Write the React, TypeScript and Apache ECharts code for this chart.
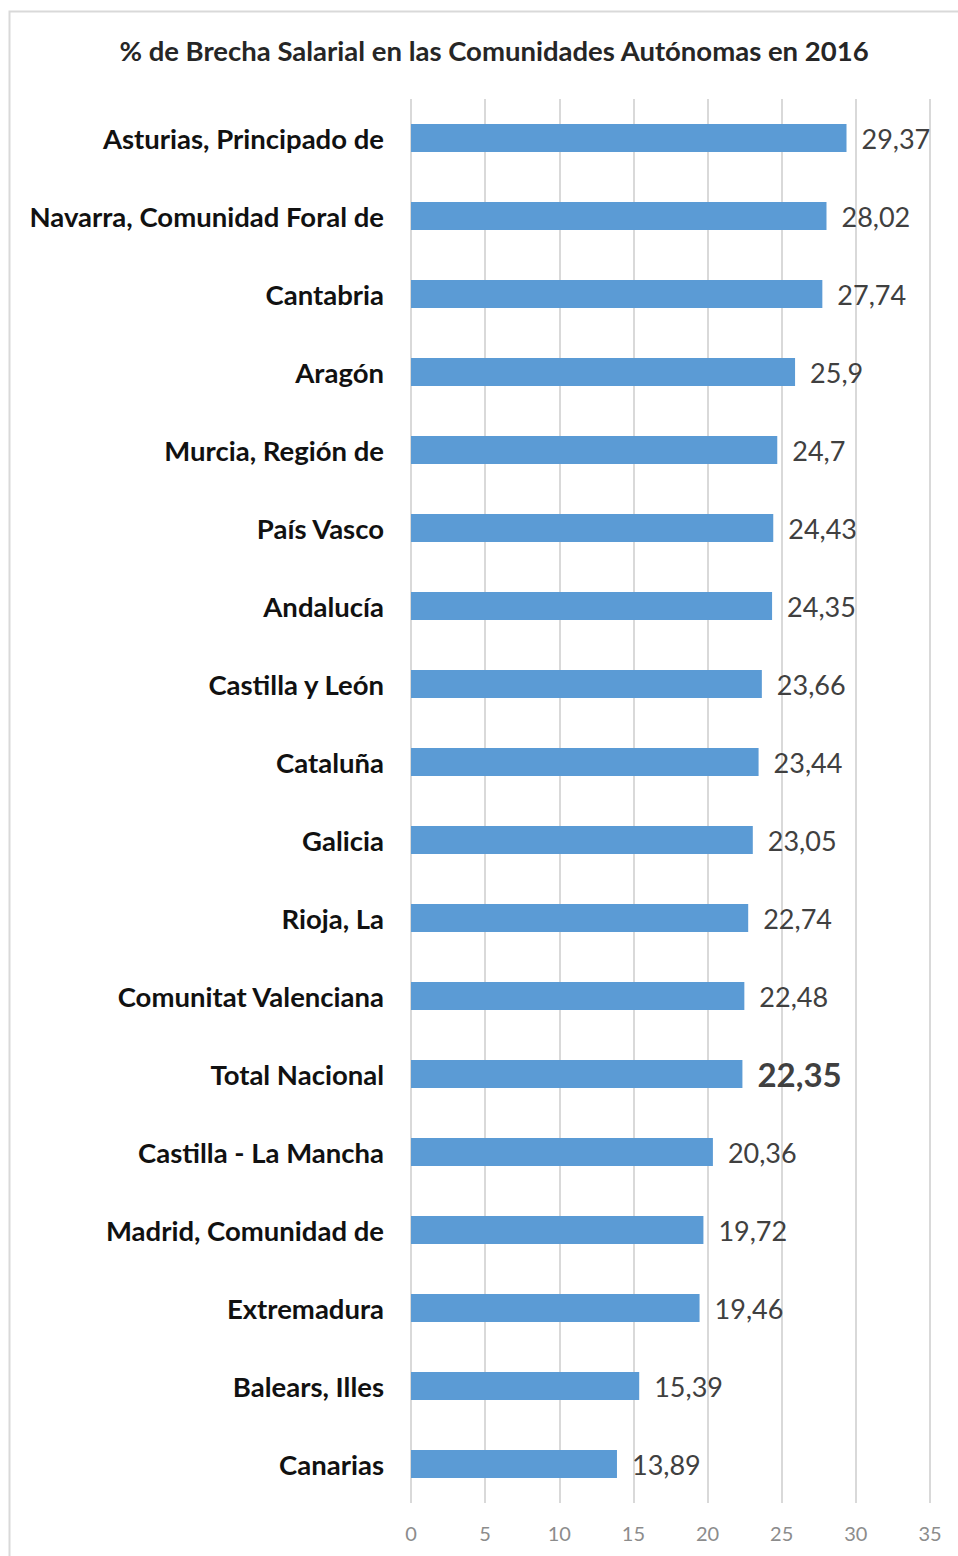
import React, { useEffect, useRef } from "react";
import * as echarts from "echarts";

const categories = [
  "Asturias, Principado de",
  "Navarra, Comunidad Foral de",
  "Cantabria",
  "Aragón",
  "Murcia, Región de",
  "País Vasco",
  "Andalucía",
  "Castilla y León",
  "Cataluña",
  "Galicia",
  "Rioja, La",
  "Comunitat Valenciana",
  "Total Nacional",
  "Castilla - La Mancha",
  "Madrid, Comunidad de",
  "Extremadura",
  "Balears, Illes",
  "Canarias",
];
const values = [29.37, 28.02, 27.74, 25.9, 24.7, 24.43, 24.35, 23.66, 23.44, 23.05, 22.74, 22.48, 22.35, 20.36, 19.72, 19.46, 15.39, 13.89];
const highlight = "Total Nacional";
const title = "% de Brecha Salarial en las Comunidades Autónomas en 2016";

const fmt = (v: number) => String(v).replace(".", ",");

export default function App() {
  const ref = useRef<HTMLDivElement>(null);
  useEffect(() => {
    document.body.style.margin = "0";
    const chart = echarts.init(ref.current!, undefined, { renderer: "svg" });
    chart.setOption({
      animation: false,
      backgroundColor: "#ffffff",
      title: {
        text: title,
        left: 489,
        textAlign: "center",
        top: 31,
        textStyle: { fontFamily: "Lato", fontWeight: "bold", fontSize: 27.5, color: "#262626" },
      },
      graphic: [
        {
          type: "rect",
          shape: { x: 9.5, y: 11.5, width: 1000, height: 1600 },
          style: { fill: "none", stroke: "#d9d9d9", lineWidth: 2 },
          silent: true,
        },
      ],
      grid: { left: 411, right: 28, top: 99, bottom: 53, containLabel: false },
      xAxis: {
        type: "value",
        min: 0,
        max: 35,
        interval: 5,
        axisLine: { show: false },
        axisTick: { show: false },
        splitLine: { show: true, lineStyle: { color: "#d9d9d9", width: 2 } },
        axisLabel: { color: "#8c8c8c", fontSize: 20, fontFamily: "Lato", margin: 20 },
      },
      yAxis: {
        type: "category",
        data: categories,
        inverse: true,
        axisLine: { show: false },
        axisTick: { show: false },
        axisLabel: {
          color: "#111111",
          fontSize: 27.5,
          fontWeight: "bold",
          fontFamily: "Lato",
          margin: 27,
        },
      },
      series: [
        {
          type: "bar",
          barWidth: 28,
          data: values.map((v, i) => ({
            value: v,
            label:
              categories[i] === highlight
                ? { fontSize: 33, fontWeight: "bold", color: "#404040" }
                : undefined,
          })),
          itemStyle: { color: "#5b9bd5" },
          label: {
            show: true,
            position: "right",
            distance: 15,
            color: "#404040",
            fontSize: 27,
            fontFamily: "Lato",
            formatter: (p: any) => fmt(p.value),
          },
        },
      ],
    });
    return () => chart.dispose();
  }, []);
  return <div ref={ref} style={{ width: 958, height: 1556 }} />;
}
